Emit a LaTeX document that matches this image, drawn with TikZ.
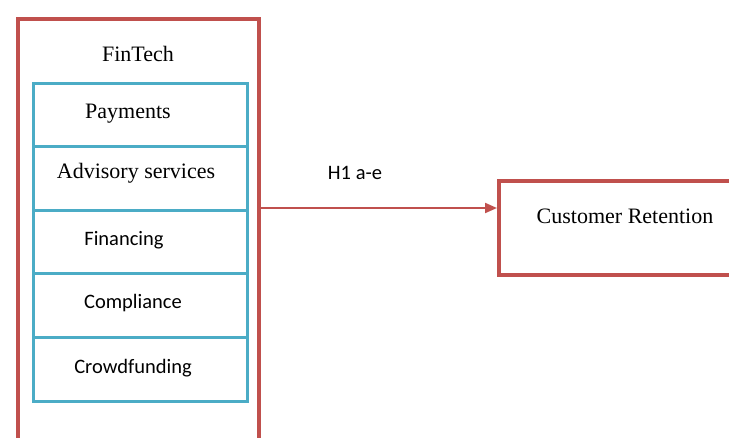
\documentclass[tikz,border=0pt]{standalone}
\usepackage{fontspec}
\setmainfont{Liberation Serif}
\newfontfamily\calib{Carlito}
\usetikzlibrary{arrows.meta}
\definecolor{myred}{HTML}{C0504D}
\definecolor{myblue}{HTML}{4BACC6}
\tikzset{
  redbox/.style={draw=myred, line width=4pt, inner sep=0pt},
  bluebox/.style={draw=myblue, line width=3pt, inner sep=0pt, minimum width=214pt, minimum height=63.6pt, anchor=north west},
  serlbl/.style={font=\fontsize{22}{24}\selectfont, anchor=base, inner sep=0pt},
  sanlbl/.style={font=\calib\fontsize{20.5}{23}\selectfont, anchor=base, inner sep=0pt},
  relarrow/.style={draw=myred, line width=2pt, -{Triangle[length=12pt,width=10pt]}}
}
\begin{document}
\begin{tikzpicture}[x=1pt,y=-1pt]
\useasboundingbox (0,0) rectangle (729,437);
\clip (0,0) rectangle (729,437);
\fill[white] (0,0) rectangle (729,437);
% outer FinTech box
\node[redbox, minimum width=241pt, minimum height=460pt, anchor=north west] (outer) at (16,17) {};
\node[serlbl] (fintech) at (138,61) {FinTech};
% inner boxes
\node[bluebox] (b1) at (32,81.5) {};
\node[bluebox] (b2) at (32,145.1) {};
\node[bluebox] (b3) at (32,208.7) {};
\node[bluebox] (b4) at (32,272.3) {};
\node[bluebox] (b5) at (32,335.9) {};
\node[serlbl] (t1) at (128,118) {Payments};
\node[serlbl] (t2) at (136,178) {Advisory services};
\node[sanlbl] (t3) at (124,245) {Financing};
\node[sanlbl] (t4) at (133,308) {Compliance};
\node[sanlbl] (t5) at (133,373) {Crowdfunding};
% customer retention
\node[redbox, minimum width=260pt, minimum height=94pt, anchor=north west] (cust) at (497,179) {};
\node[serlbl] (ct) at (625,223) {Customer Retention};
% arrow
\coordinate (a1) at (257,208);
\draw[relarrow] (a1) -- (cust.west |- a1);
\node[sanlbl] (h1) at (355,179) {H1 a-e};
\end{tikzpicture}
\end{document}
